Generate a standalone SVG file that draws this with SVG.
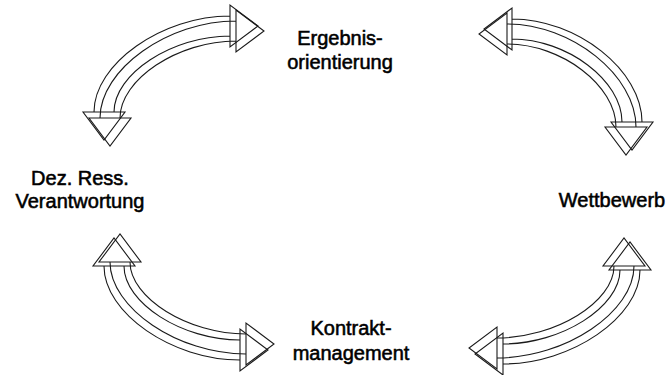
<svg xmlns="http://www.w3.org/2000/svg" width="668" height="375" viewBox="0 0 668 375">
<style>
.arr{fill:none;stroke:#1a1a1a;stroke-width:1.1;stroke-linejoin:miter}
.lbl{font-family:"Liberation Sans",Arial,sans-serif;font-size:20px;fill:#000;stroke:#000;stroke-width:0.55;text-anchor:middle}
</style>
<rect width="668" height="375" fill="#fff"/>
<g id="connectors">
<g id="arrow-top-left">
<path class="arr" d="M94,112 C94,64 162,16 230,16 L230,5 L258,26 L230,47 L230,36 C172,36 114,74 114,112 L125,112 L104,140 L83,112 Z M94,112 L114,112 M230,16 L230,36"/>
<path class="arr" d="M100,118 C100,69.5 168,21 236,21 L236,10 L264,31 L236,52 L236,41 C178,41 120,79.5 120,118 L131,118 L110,146 L89,118 Z M100,118 L120,118 M236,21 L236,41"/>
</g>
<g id="arrow-top-right">
<path class="arr" d="M642,122 C642,70.5 577,19 512,19 L512,8 L484,29 L512,50 L512,39 C567,39 622,80.5 622,122 L611,122 L632,150 L653,122 Z M642,122 L622,122 M512,19 L512,39"/>
<path class="arr" d="M636,127 C636,75.5 571.5,24 507,24 L507,13 L479,34 L507,55 L507,44 C561.5,44 616,85.5 616,127 L605,127 L626,155 L647,127 Z M636,127 L616,127 M507,24 L507,44"/>
</g>
<g id="arrow-bottom-left">
<path class="arr" d="M104,266 C104,313 172,360 240,360 L240,371 L268,350 L240,329 L240,340 C182,340 124,303 124,266 L135,266 L114,238 L93,266 Z M104,266 L124,266 M240,360 L240,340"/>
<path class="arr" d="M110,262 C110,308 178,354 246,354 L246,365 L274,344 L246,323 L246,334 C188,334 130,298 130,262 L141,262 L120,234 L99,262 Z M110,262 L130,262 M246,354 L246,334"/>
</g>
<g id="arrow-bottom-right">
<path class="arr" d="M640,270 C640,317 571.5,364 503,364 L503,375 L475,354 L503,333 L503,344 C561.5,344 620,307 620,270 L609,270 L630,242 L651,270 Z M640,270 L620,270 M503,364 L503,344"/>
<path class="arr" d="M634,266 C634,312 565.5,358 497,358 L497,369 L469,348 L497,327 L497,338 C555.5,338 614,302 614,266 L603,266 L624,238 L645,266 Z M634,266 L614,266 M497,358 L497,338"/>
</g>
</g>
<g id="node-ergebnisorientierung">
<text class="lbl" x="340" y="45">Ergebnis-</text>
<text class="lbl" x="340" y="69">orientierung</text>
</g>
<g id="node-dez-ress-verantwortung">
<text class="lbl" x="80" y="185">Dez. Ress.</text>
<text class="lbl" x="80" y="208">Verantwortung</text>
</g>
<g id="node-wettbewerb">
<text class="lbl" x="612" y="207">Wettbewerb</text>
</g>
<g id="node-kontraktmanagement">
<text class="lbl" x="351" y="335">Kontrakt-</text>
<text class="lbl" x="351" y="360">management</text>
</g>
</svg>
